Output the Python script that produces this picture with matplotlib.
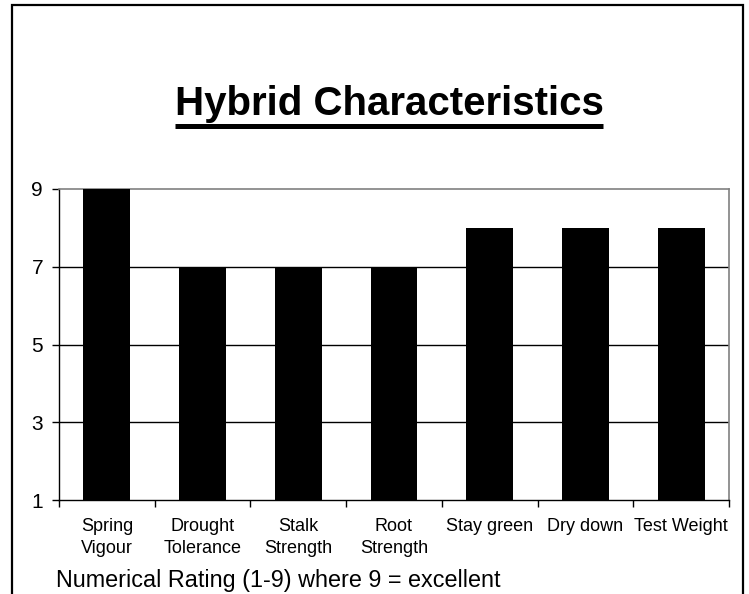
import matplotlib
matplotlib.use("Agg")
import matplotlib.pyplot as plt
from matplotlib.lines import Line2D
from matplotlib.patches import Rectangle
import numpy as np

categories = ["Spring\nVigour", "Drought\nTolerance", "Stalk\nStrength",
              "Root\nStrength", "Stay green", "Dry down", "Test Weight"]
ratings = [9, 7, 7, 7, 8, 8, 8]
yticks = [1, 3, 5, 7, 9]

W, H = 749, 594
plt.rcParams["font.family"] = ["Liberation Sans", "DejaVu Sans"]

fig = plt.figure(figsize=(W / 100, H / 100), dpi=100)

# outer frame (runs off the bottom edge)
fig.patches.append(Rectangle((12 / W, -0.1), (743 - 12) / W, 1.1 - 5 / H,
                             transform=fig.transFigure, fill=False,
                             edgecolor="black", linewidth=1.6))

ax = fig.add_axes([59 / W, 94 / H, 670 / W, 311 / H])
x = np.arange(len(categories))
ax.bar(x, ratings, width=0.49, color="black", zorder=3)
ax.set_xlim(-0.5, len(categories) - 0.5)
ax.set_ylim(1, 9)

for v in yticks[1:-1]:
    ax.axhline(v, color="black", linewidth=1.0, zorder=1)

ax.set_yticks(yticks)
ax.tick_params(axis="y", length=5, width=1, pad=6.5, labelsize=15)
ax.set_xticks(np.arange(len(categories) + 1) - 0.5)
ax.set_xticklabels([])
ax.tick_params(axis="x", which="major", length=5, width=1, direction="out")
ax.set_xticks(x, minor=True)
ax.set_xticklabels(categories, minor=True,
                   family=["Liberation Sans Narrow", "Liberation Sans"],
                   fontsize=13, linespacing=1.4)
ax.tick_params(axis="x", which="minor", length=0, pad=13)

for s in ["left", "bottom"]:
    ax.spines[s].set_color("black")
    ax.spines[s].set_linewidth(1.0)
for s in ["top", "right"]:
    ax.spines[s].set_color("#808080")
    ax.spines[s].set_linewidth(1.2)

title = fig.text(389 / W, 1 - 115 / H, "Hybrid Characteristics",
                 ha="center", va="baseline", fontsize=29, fontweight="bold")
fig.canvas.draw()
bb = title.get_window_extent()
fig.add_artist(Line2D([bb.x0 / W, bb.x1 / W], [1 - 125.5 / H, 1 - 125.5 / H],
                      transform=fig.transFigure, color="black",
                      linewidth=3.6, solid_capstyle="butt"))

fig.text(56 / W, 7 / H, "Numerical Rating (1-9) where 9 = excellent",
         ha="left", va="baseline", fontsize=16.8)

fig.savefig("out.png", dpi=100)
